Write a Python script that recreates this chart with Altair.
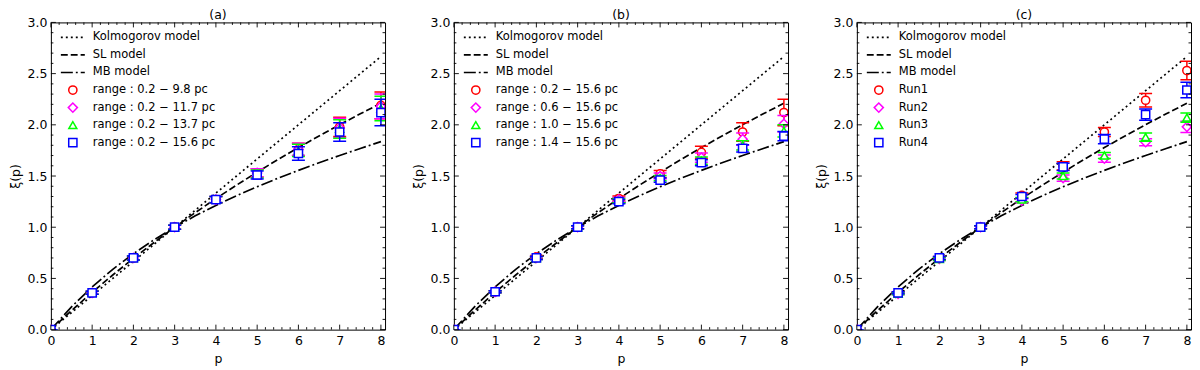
import altair as alt
import pandas as pd

# ---------------- data ----------------
P = [0, 1, 2, 3, 4, 5, 6, 7, 8]
SERIES_COLORS = ["#ff0000", "#ff00ff", "#00ff00", "#0000ff"]
SERIES_SHAPES = ["circle", "diamond", "triangle-up", "square"]
SERIES_SIZES = [68, 84, 64, 68]

# panel (a)
A_LABELS = ["range : 0.2 − 9.8 pc", "range : 0.2 − 11.7 pc",
            "range : 0.2 − 13.7 pc", "range : 0.2 − 15.6 pc"]
A_VALS = [
    [0, 0.36, 0.70, 1.00, 1.27, 1.53, 1.76, 1.98, 2.19],
    [0, 0.36, 0.70, 1.00, 1.27, 1.53, 1.76, 1.97, 2.18],
    [0, 0.36, 0.70, 1.00, 1.27, 1.52, 1.75, 1.96, 2.16],
    [0, 0.36, 0.70, 1.00, 1.27, 1.51, 1.72, 1.93, 2.12],
]
A_ERRS = [
    [0, 0.015, 0.02, 0.02, 0.03, 0.04, 0.06, 0.095, 0.13],
    [0, 0.015, 0.02, 0.02, 0.03, 0.04, 0.06, 0.095, 0.12],
    [0, 0.015, 0.02, 0.02, 0.03, 0.04, 0.06, 0.09, 0.12],
    [0, 0.015, 0.02, 0.02, 0.03, 0.04, 0.065, 0.09, 0.13],
]
# panel (b)
B_LABELS = ["range : 0.2 − 15.6 pc", "range : 0.6 − 15.6 pc",
            "range : 1.0 − 15.6 pc", "range : 1.4 − 15.6 pc"]
B_VALS = [
    [0, 0.37, 0.71, 1.00, 1.28, 1.52, 1.73, 1.93, 2.12],
    [0, 0.37, 0.70, 1.00, 1.27, 1.50, 1.68, 1.86, 2.01],
    [0, 0.37, 0.70, 1.00, 1.26, 1.48, 1.65, 1.80, 1.94],
    [0, 0.37, 0.70, 1.00, 1.25, 1.46, 1.63, 1.77, 1.89],
]
B_ERRS = [
    [0, 0.01, 0.015, 0.015, 0.025, 0.035, 0.06, 0.09, 0.13],
    [0, 0.01, 0.015, 0.015, 0.02, 0.03, 0.045, 0.06, 0.08],
    [0, 0.01, 0.015, 0.015, 0.02, 0.025, 0.035, 0.045, 0.06],
    [0, 0.01, 0.015, 0.015, 0.02, 0.02, 0.03, 0.035, 0.045],
]
# panel (c)
C_LABELS = ["Run1", "Run2", "Run3", "Run4"]
C_VALS = [
    [0, 0.36, 0.70, 1.00, 1.31, 1.60, 1.93, 2.24, 2.53],
    [0, 0.35, 0.69, 1.00, 1.26, 1.48, 1.67, 1.83, 1.98],
    [0, 0.35, 0.69, 1.00, 1.27, 1.50, 1.70, 1.88, 2.07],
    [0, 0.36, 0.70, 1.00, 1.30, 1.59, 1.86, 2.10, 2.34],
]
C_ERRS = [
    [0, 0.01, 0.015, 0.015, 0.025, 0.04, 0.045, 0.065, 0.09],
    [0, 0.01, 0.015, 0.015, 0.02, 0.03, 0.035, 0.035, 0.055],
    [0, 0.01, 0.015, 0.015, 0.02, 0.03, 0.03, 0.04, 0.045],
    [0, 0.01, 0.015, 0.015, 0.02, 0.035, 0.045, 0.055, 0.075],
]

# model curves
MODEL_P = [0, 0.5, 1, 1.5, 2, 2.5, 3, 3.5, 4, 4.5, 5, 5.5, 6, 6.5, 7, 7.5, 8]
KOL = [0, 0.1667, 0.3333, 0.5, 0.6667, 0.8333, 1.0, 1.1667, 1.3333, 1.5,
       1.6667, 1.8333, 2.0, 2.1667, 2.3333, 2.5, 2.6667]
SL = [0, 0.1862, 0.3640, 0.5337, 0.6959, 0.8512, 1.0, 1.1427, 1.2797, 1.4113,
      1.5380, 1.6600, 1.7778, 1.8914, 2.0013, 2.1075, 2.2105]
MB = [0, 0.2229, 0.4178, 0.5893, 0.7415, 0.8775, 1.0, 1.1113, 1.2133, 1.3076,
      1.3953, 1.4777, 1.5556, 1.6297, 1.7008, 1.7692, 1.8355]
MODEL_NAMES = ["Kolmogorov model", "SL model", "MB model"]
MODEL_DASH = [[1.9, 3.1], [6.9, 3.0], [12, 3, 1.9, 3]]

X_MAJOR = [0, 1, 2, 3, 4, 5, 6, 7, 8]
Y_MAJOR = [0.0, 0.5, 1.0, 1.5, 2.0, 2.5, 3.0]
X_MINOR = [round(i * 0.2, 2) for i in range(41) if i % 5 != 0]
Y_MINOR = [round(i * 0.1, 2) for i in range(31) if i % 5 != 0]

# ---------------- layout ----------------
W, H = 335, 308
FONT = "DejaVu Sans"
XS = alt.Scale(domain=[0, 8.1], nice=False, zero=False)
YS = alt.Scale(domain=[0, 3], nice=False, zero=False)


def xenc(field="p", title="p"):
    return alt.X(f"{field}:Q", scale=XS,
                 axis=alt.Axis(values=X_MAJOR, title=title, format="d"))


def yenc(field="v", title="ξ(p)"):
    return alt.Y(f"{field}:Q", scale=YS,
                 axis=alt.Axis(values=Y_MAJOR, title=title, format=".1f"))


def panel(title, labels, vals, errs):
    layers = []
    # model curves
    for name, ys, dash in zip(MODEL_NAMES, [KOL, SL, MB], MODEL_DASH):
        df = pd.DataFrame({"p": MODEL_P, "v": ys})
        layers.append(
            alt.Chart(df).mark_line(color="black", strokeWidth=1.7,
                                    strokeDash=dash, clip=True)
            .encode(x=xenc(), y=yenc())
        )
    # data series with error bars
    for lab, v, e, col, shp, sz in zip(labels, vals, errs, SERIES_COLORS,
                                       SERIES_SHAPES, SERIES_SIZES):
        df = pd.DataFrame({"p": P, "v": v,
                           "lo": [a - b for a, b in zip(v, e)],
                           "hi": [a + b for a, b in zip(v, e)]})
        base = alt.Chart(df)
        layers.append(base.mark_rule(color=col, strokeWidth=1.5, clip=True)
                      .encode(x=xenc(), y=yenc("lo"), y2="hi:Q"))
        for end in ["lo", "hi"]:
            layers.append(
                base.mark_rule(color=col, strokeWidth=1.5, xOffset=-6.5,
                               x2Offset=6.5, clip=True)
                .encode(x=xenc(), x2="p:Q", y=yenc(end))
            )
        layers.append(
            base.mark_point(shape=shp, size=sz, filled=False, fill="white",
                            fillOpacity=1, stroke=col, strokeWidth=1.5,
                            opacity=1, clip=True)
            .encode(x=xenc(), y=yenc())
        )
    # inward ticks on all four sides
    for vals_, length in [(X_MAJOR, 5), (X_MINOR, 2.5)]:
        df = pd.DataFrame({"p": vals_})
        layers.append(alt.Chart(df).mark_rule(color="black", strokeWidth=0.9)
                      .encode(x=xenc(), y=alt.value(H), y2=alt.value(H - length)))
        layers.append(alt.Chart(df).mark_rule(color="black", strokeWidth=0.9)
                      .encode(x=xenc(), y=alt.value(0), y2=alt.value(length)))
    for vals_, length in [(Y_MAJOR, 5), (Y_MINOR, 2.5)]:
        df = pd.DataFrame({"v": vals_})
        layers.append(alt.Chart(df).mark_rule(color="black", strokeWidth=0.9)
                      .encode(y=yenc(), x=alt.value(0), x2=alt.value(length)))
        layers.append(alt.Chart(df).mark_rule(color="black", strokeWidth=0.9)
                      .encode(y=yenc(), x=alt.value(W), x2=alt.value(W - length)))
    # legend
    one = pd.DataFrame({"k": [0]})
    row_y = [15 + 17.6 * i for i in range(7)]
    for i, (name, dash) in enumerate(zip(MODEL_NAMES, MODEL_DASH)):
        layers.append(alt.Chart(one).mark_rule(color="black", strokeWidth=1.7,
                                               strokeDash=dash)
                      .encode(x=alt.value(10), x2=alt.value(34),
                              y=alt.value(row_y[i])))
        layers.append(alt.Chart(one).mark_text(align="left", baseline="middle",
                                               font=FONT, fontSize=11.5,
                                               color="black")
                      .encode(x=alt.value(42), y=alt.value(row_y[i]),
                              text=alt.value(name)))
    for j, (lab, col, shp, sz) in enumerate(zip(labels, SERIES_COLORS,
                                               SERIES_SHAPES, SERIES_SIZES)):
        yy = row_y[3 + j]
        layers.append(alt.Chart(one).mark_point(shape=shp, size=sz, filled=False,
                                                stroke=col, strokeWidth=1.5,
                                                opacity=1)
                      .encode(x=alt.value(22), y=alt.value(yy)))
        layers.append(alt.Chart(one).mark_text(align="left", baseline="middle",
                                               font=FONT, fontSize=11.5,
                                               color="black")
                      .encode(x=alt.value(42), y=alt.value(yy),
                              text=alt.value(lab)))
    return alt.layer(*layers).properties(
        width=W, height=H,
        title=alt.TitleParams(title, font=FONT, fontSize=12.5,
                              fontWeight="normal", color="black", offset=-5,
                              anchor="middle"),
    )


chart = alt.hconcat(
    panel("(a)", A_LABELS, A_VALS, A_ERRS),
    panel("(b)", B_LABELS, B_VALS, B_ERRS),
    panel("(c)", C_LABELS, C_VALS, C_ERRS),
    spacing=25,
).properties(
    padding={"left": 0, "top": 0, "right": 0, "bottom": 0}
).configure_view(
    stroke="black", strokeWidth=1
).configure_axis(
    grid=False, domain=False, ticks=False, labelFont=FONT, labelFontSize=12.5,
    labelColor="black", titleFont=FONT, titleFontSize=12.5,
    titleFontWeight="normal", titleColor="black", labelPadding=4,
    labelFlush=False
).configure_axisY(titlePadding=5).configure_axisX(titlePadding=5, labelPadding=5)

chart.save("out.html", embed_options={"renderer": "svg", "actions": False})
